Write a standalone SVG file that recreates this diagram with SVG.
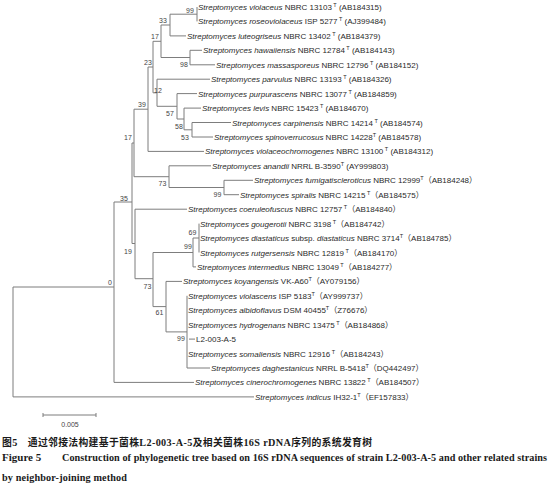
<svg xmlns="http://www.w3.org/2000/svg" width="554" height="484" viewBox="0 0 554 484">
<style>
.br{stroke:#7d7d7d;stroke-width:1;fill:none}
.lf{font-family:"Liberation Sans",Arial,"Noto Sans CJK SC",sans-serif;font-size:8px;fill:#2a2a2a}
.i{font-style:italic}
.t{font-size:5.5px}
.bs{font-family:"Liberation Sans",Arial,sans-serif;font-size:7px;fill:#444;text-anchor:middle}
.zh{font-family:"Noto Sans CJK SC","Noto Sans CJK JP",sans-serif;font-weight:700;font-size:9.8px;fill:#1a1a1a}
.en{font-family:"Liberation Serif","Times New Roman",serif;font-weight:700;font-size:10.2px;fill:#1a1a1a}
</style>
<rect width="554" height="484" fill="#ffffff"/>
<g id="connectors" class="br">
<path d="M170 35.9H186M190 50.3H202M190 64.8H215M157 79.2H210M177 93.6H197M184 108.1H201M192 122.5H231M192 137H213M148 151.4H204M169 165.8H211M224 180.3H253M224 194.7H239M135 209.2H187M193 266.9H196M166 281.4H182M189 339.1H195M187 368H210M114 382.4H194M13 396.9H254"/>
<path d="M197 7V21.4M170 14.2H197M170 14.2V35.9M161 25H170M190 50.3V64.8M161 57.5H190M161 25V57.5M153 41.3H161"/>
<path d="M192 122.5V137M184 129.8H192M184 108.1V129.8M177 119H184M177 93.6V119M157 106.3H177M157 79.2V106.3M153 92.8H157M153 41.3V92.8M148 67H153M148 67V151.4M134 109.2H148"/>
<path d="M224 180.3V194.7M169 187.5H224M169 165.8V187.5M134 176.7H169M134 109.2V176.7M132 143H134M132 143V243.5M114 202H132"/>
<path d="M135 209.2V278.7M132 243.5H135M199 223.6V252.5M193 238H199M193 238V266.9M153 252.5H193M153 252.5V306.6M135 278.7H153M187 295.8V368M166 331.9H187M166 281.4V331.9M153 306.6H166"/>
<path d="M114 202V382.4M13 287H114M13 287V396.9"/>
</g>
<g id="bootstrap">
<text class="bs" x="190" y="12.5">99</text>
<text class="bs" x="163" y="22.5">33</text>
<text class="bs" x="155" y="38.5">17</text>
<text class="bs" x="184" y="66.5">98</text>
<text class="bs" x="148" y="64.5">23</text>
<text class="bs" x="158" y="92.5">12</text>
<text class="bs" x="142" y="106.5">39</text>
<text class="bs" x="170" y="115.5">57</text>
<text class="bs" x="179" y="128.5">58</text>
<text class="bs" x="185" y="139.5">53</text>
<text class="bs" x="128" y="139.5">17</text>
<text class="bs" x="162.5" y="185.5">73</text>
<text class="bs" x="217.5" y="196.5">99</text>
<text class="bs" x="124" y="200.5">35</text>
<text class="bs" x="192.5" y="235">69</text>
<text class="bs" x="188" y="249">99</text>
<text class="bs" x="128" y="253.5">19</text>
<text class="bs" x="110" y="285">0</text>
<text class="bs" x="147.5" y="289">73</text>
<text class="bs" x="159.5" y="315">61</text>
<text class="bs" x="181" y="341">99</text>
</g>
<g id="leaf01"><text class="lf" x="198" y="10"><tspan class="i">Streptomyces violaceus</tspan> NBRC 13103<tspan class="t" dx="1.5" dy="-3">T</tspan><tspan dy="3"> (AB184315)</tspan></text></g>
<g id="leaf02"><text class="lf" x="198" y="24.4"><tspan class="i">Streptomyces roseoviolaceus</tspan> ISP 5277<tspan class="t" dx="1.5" dy="-3">T</tspan><tspan dy="3"> (AJ399484)</tspan></text></g>
<g id="leaf03"><text class="lf" x="187" y="38.9"><tspan class="i">Streptomyces luteogriseus</tspan> NBRC 13402<tspan class="t" dx="1.5" dy="-3">T</tspan><tspan dy="3"> (AB184379)</tspan></text></g>
<g id="leaf04"><text class="lf" x="203" y="53.3"><tspan class="i">Streptomyces hawaiiensis</tspan> NBRC 12784<tspan class="t" dx="1.5" dy="-3">T</tspan><tspan dy="3"> (AB184143)</tspan></text></g>
<g id="leaf05"><text class="lf" x="216" y="67.8"><tspan class="i">Streptomyces massasporeus</tspan> NBRC 12796<tspan class="t" dx="1.5" dy="-3">T</tspan><tspan dy="3"> (AB184152)</tspan></text></g>
<g id="leaf06"><text class="lf" x="211" y="82.2"><tspan class="i">Streptomyces parvulus</tspan> NBRC 13193<tspan class="t" dx="1.5" dy="-3">T</tspan><tspan dy="3"> (AB184326)</tspan></text></g>
<g id="leaf07"><text class="lf" x="198" y="96.6"><tspan class="i">Streptomyces purpurascens</tspan> NBRC 13077<tspan class="t" dx="1.5" dy="-3">T</tspan><tspan dy="3"> (AB184859)</tspan></text></g>
<g id="leaf08"><text class="lf" x="202" y="111.1"><tspan class="i">Streptomyces levis</tspan> NBRC 15423<tspan class="t" dx="1.5" dy="-3">T</tspan><tspan dy="3"> (AB184670)</tspan></text></g>
<g id="leaf09"><text class="lf" x="232" y="125.5"><tspan class="i">Streptomyces carpinensis</tspan> NBRC 14214<tspan class="t" dx="1.5" dy="-3">T</tspan><tspan dy="3"> (AB184574)</tspan></text></g>
<g id="leaf10"><text class="lf" x="214" y="140"><tspan class="i">Streptomyces spinoverrucosus</tspan> NBRC 14228<tspan class="t" dy="-3">T</tspan><tspan dy="3"> (AB184578)</tspan></text></g>
<g id="leaf11"><text class="lf" x="205" y="154.4"><tspan class="i">Streptomyces violaceochromogenes</tspan> NBRC 13100<tspan class="t" dx="1.5" dy="-3">T</tspan><tspan dy="3"> (AB184312)</tspan></text></g>
<g id="leaf12"><text class="lf" x="212" y="168.8"><tspan class="i">Streptomyces anandii</tspan> NRRL B-3590<tspan class="t" dy="-3">T</tspan><tspan dy="3"> (AY999803)</tspan></text></g>
<g id="leaf13"><text class="lf" x="254" y="183.3"><tspan class="i">Streptomyces fumigatiscleroticus</tspan> NBRC 12999<tspan class="t" dy="-3">T</tspan><tspan dy="3">（AB184248）</tspan></text></g>
<g id="leaf14"><text class="lf" x="240" y="197.7"><tspan class="i">Streptomyces spiralis</tspan> NBRC 14215<tspan class="t" dx="1.5" dy="-3">T</tspan><tspan dy="3">（AB184575）</tspan></text></g>
<g id="leaf15"><text class="lf" x="188" y="212.2"><tspan class="i">Streptomyces coeruleofuscus</tspan> NBRC 12757<tspan class="t" dx="1.5" dy="-3">T</tspan><tspan dy="3">（AB184840）</tspan></text></g>
<g id="leaf16"><text class="lf" x="200" y="226.6"><tspan class="i">Streptomyces gougerotii</tspan> NBRC 3198<tspan class="t" dx="1.5" dy="-3">T</tspan><tspan dy="3">（AB184742）</tspan></text></g>
<g id="leaf17"><text class="lf" x="200" y="241"><tspan class="i">Streptomyces diastaticus</tspan> subsp. <tspan class="i">diastaticus</tspan> NBRC 3714<tspan class="t" dy="-3">T</tspan><tspan dy="3">（AB184785）</tspan></text></g>
<g id="leaf18"><text class="lf" x="200" y="255.5"><tspan class="i">Streptomyces rutgersensis</tspan> NBRC 12819<tspan class="t" dx="1.5" dy="-3">T</tspan><tspan dy="3">（AB184170）</tspan></text></g>
<g id="leaf19"><text class="lf" x="197" y="269.9"><tspan class="i">Streptomyces intermedius</tspan> NBRC 13049<tspan class="t" dx="1.5" dy="-3">T</tspan><tspan dy="3">（AB184277）</tspan></text></g>
<g id="leaf20"><text class="lf" x="183" y="284.4"><tspan class="i">Streptomyces koyangensis</tspan> VK-A60<tspan class="t" dy="-3">T</tspan><tspan dy="3">（AY079156）</tspan></text></g>
<g id="leaf21"><text class="lf" x="188" y="298.8"><tspan class="i">Streptomyces violascens</tspan> ISP 5183<tspan class="t" dy="-3">T</tspan><tspan dy="3">（AY999737）</tspan></text></g>
<g id="leaf22"><text class="lf" x="188" y="313.2"><tspan class="i">Streptomyces albidoflavus</tspan> DSM 40455<tspan class="t" dy="-3">T</tspan><tspan dy="3">（Z76676）</tspan></text></g>
<g id="leaf23"><text class="lf" x="188" y="327.7"><tspan class="i">Streptomyces hydrogenans</tspan> NBRC 13475<tspan class="t" dx="1.5" dy="-3">T</tspan><tspan dy="3">（AB184868）</tspan></text></g>
<g id="leaf24"><text class="lf" x="196" y="342.1">L2-003-A-5</text></g>
<g id="leaf25"><text class="lf" x="188" y="356.6"><tspan class="i">Streptomyces somaliensis</tspan> NBRC 12916<tspan class="t" dx="1.5" dy="-3">T</tspan><tspan dy="3">（AB184243）</tspan></text></g>
<g id="leaf26"><text class="lf" x="211" y="371"><tspan class="i">Streptomyces daghestanicus</tspan> NRRL B-5418<tspan class="t" dy="-3">T</tspan><tspan dy="3">（DQ442497）</tspan></text></g>
<g id="leaf27"><text class="lf" x="195" y="385.4"><tspan class="i">Streptomyces cinerochromogenes</tspan> NBRC 13822<tspan class="t" dx="1.5" dy="-3">T</tspan><tspan dy="3">（AB184507）</tspan></text></g>
<g id="leaf28"><text class="lf" x="255" y="399.9"><tspan class="i">Streptomyces indicus</tspan> IH32-1<tspan class="t" dy="-3">T</tspan><tspan dy="3">（EF157833）</tspan></text></g>
<g id="scalebar">
<path class="br" d="M43 415H96M43 413V417M96 413V417"/>
<text class="bs" x="70" y="427">0.005</text>
</g>
<g id="caption">
<text x="2" y="446" textLength="370" lengthAdjust="spacing"><tspan class="zh">图</tspan><tspan class="en">5</tspan><tspan class="zh">　通过邻接法构建基于菌株</tspan><tspan class="en">L2-003-A-5</tspan><tspan class="zh">及相关菌株</tspan><tspan class="en">16S rDNA</tspan><tspan class="zh">序列的系统发育树</tspan></text>
<text class="en" x="2" y="461" style="font-size:11px">Figure 5</text>
<text class="en" x="62" y="461" textLength="485" lengthAdjust="spacing">Construction of phylogenetic tree based on 16S rDNA sequences of strain L2-003-A-5 and other related strains</text>
<text class="en" x="2" y="480.5" textLength="125" lengthAdjust="spacing">by neighbor-joining method</text>
</g>
</svg>
